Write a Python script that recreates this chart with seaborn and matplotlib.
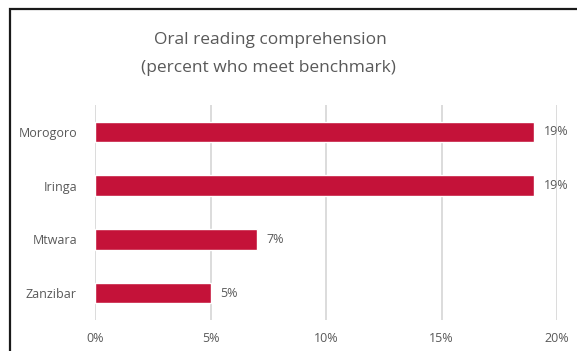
import matplotlib
matplotlib.use("Agg")
import matplotlib.pyplot as plt
from matplotlib.patches import Rectangle
import seaborn as sns
import pandas as pd

regions = ["Morogoro", "Iringa", "Mtwara", "Zanzibar"]
pct_meeting = [19, 19, 7, 5]
x_ticks = [0, 5, 10, 15, 20]

df = pd.DataFrame({"region": regions, "pct": pct_meeting})

sns.set_theme(style="white")
plt.rcParams["font.family"] = ["Open Sans", "DejaVu Sans"]

W, H = 577, 351
fig = plt.figure(figsize=(W / 100, H / 100), dpi=100)
ax = fig.add_axes([95 / W, 1 - 320 / H, (557 - 95) / W, (320 - 105) / H])

text_col = "#595959"
bar_col = "#C41239"

sns.barplot(data=df, y="region", x="pct", orient="h", color=bar_col,
            width=0.38, ax=ax, saturation=1, zorder=3)

ax.set_xlim(0, 20)
ax.set_ylim(3.5, -0.5)
ax.set_xticks(x_ticks)
ax.set_xticklabels([f"{t}%" for t in x_ticks])
ax.grid(axis="x", color="#D9D9D9", linewidth=1.3, zorder=0)
ax.set_xlabel("")
ax.set_ylabel("")
for s in ax.spines.values():
    s.set_visible(False)
ax.tick_params(axis="both", length=0, labelsize=9, labelcolor=text_col)
ax.tick_params(axis="y", pad=13)
ax.tick_params(axis="x", pad=9)

for i, v in enumerate(pct_meeting):
    ax.annotate(f"{v}%", xy=(v, i), xytext=(7, 0), textcoords="offset points",
                va="center", ha="left", fontsize=9, color=text_col)

fig.text(270 / W, 1 - 40 / H, "Oral reading comprehension", ha="center",
         va="center", fontsize=12.5, color=text_col)
fig.text(268 / W, 1 - 68 / H, "(percent who meet benchmark)", ha="center",
         va="center", fontsize=12.5, color=text_col)

# outer chart frame, running off the right and bottom edges
frame = Rectangle((9.5 / W, -0.2), 1.2, 1 - 8.5 / H + 0.2,
                  transform=fig.transFigure, fill=False,
                  edgecolor="#1a1a1a", linewidth=1.6)
fig.patches.append(frame)

fig.savefig("out.png", dpi=100)
